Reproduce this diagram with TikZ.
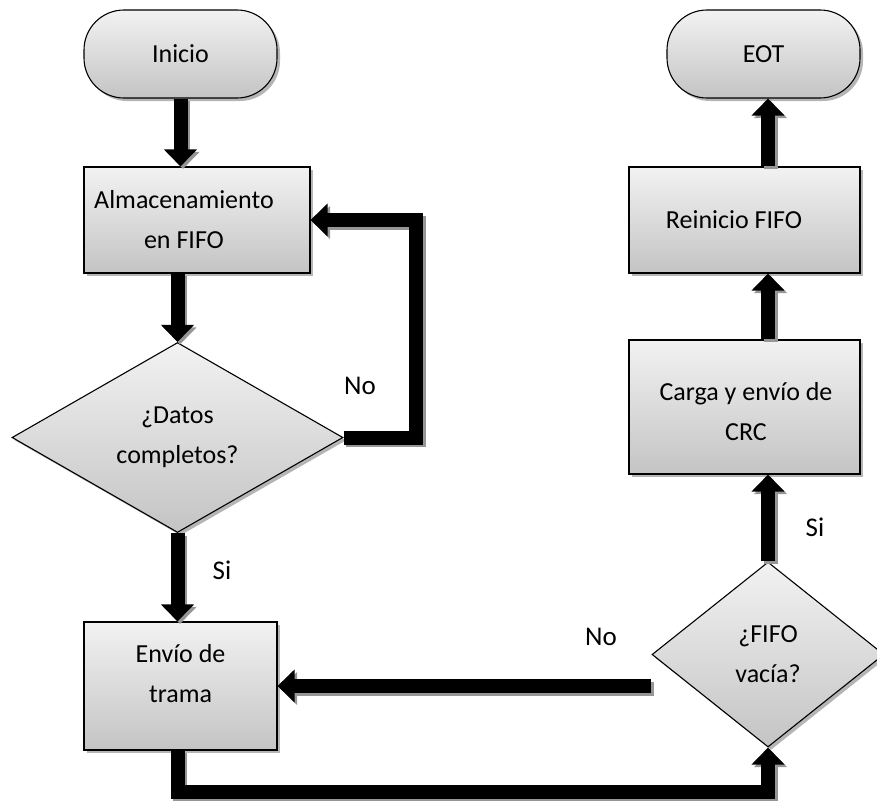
\documentclass[tikz,border=0pt]{standalone}
\usepackage{fontspec}
\setmainfont{Carlito}
\usetikzlibrary{arrows.meta,shapes.geometric,shadows,calc}
\definecolor{filltop}{RGB}{242,242,242}
\definecolor{fillbot}{RGB}{196,196,196}
\definecolor{shadowgray}{RGB}{150,150,150}
\begin{document}
\begin{tikzpicture}[x=1pt,y=-1pt,
  base/.style={draw=black, line width=1.1pt, top color=filltop, bottom color=fillbot,
    inner sep=0pt, align=center, font=\fontsize{26}{40}\selectfont,
    drop shadow={shadow xshift=3pt, shadow yshift=-3pt, fill=shadowgray, opacity=0.7}},
  terminal/.style={base, rounded corners=40pt, minimum width=193pt, minimum height=88pt},
  process/.style={base, minimum height=106pt},
  decision/.style={base, diamond},
  boxtext/.style={inner sep=0pt, align=center, font=\fontsize{26}{40}\selectfont},
  flow/.style={line width=14pt, -{Triangle[width=32pt,length=17pt]},
    preaction={draw=shadowgray, line width=14pt, -{Triangle[width=32pt,length=17pt]},
      transform canvas={shift={(2.5pt,-2.5pt)}}}},
  lbl/.style={font=\fontsize{27}{30}\selectfont, inner sep=0pt}]
  \useasboundingbox (0,0) rectangle (877,800);

  % left column
  \node[terminal] (inicio) at (180.5,54) {Inicio};
  \node[process, minimum width=226pt] (alm) at (197,220) {};
  \node[boxtext] (almtext) at (184,220) {Almacenamiento\\en FIFO};
  \node[decision, minimum width=331pt, minimum height=190pt] (datos) at (177.5,437.5) {¿Datos\\completos?};
  \node[process, minimum width=193pt, minimum height=128pt] (envio) at (180.5,686) {};
  \node[boxtext] (enviotext) at (180.5,674) {Envío de\\trama};

  % right column
  \node[terminal] (eot) at (763.5,54) {EOT};
  \node[process, minimum width=231pt] (reinicio) at (744.5,220) {};
  \node[boxtext] (reiniciotext) at (734,220) {Reinicio FIFO};
  \node[process, minimum width=231pt, minimum height=134pt] (carga) at (744.5,407) {};
  \node[boxtext] (cargatext) at (746,412) {Carga y envío de\\CRC};
  \node[decision, minimum width=232pt, minimum height=185pt] (fifo) at (768,654.5) {¿FIFO\\vacía?};

  \coordinate (loopx) at (416,0);
  \coordinate (bottom) at (0,792);

  % connectors
  \draw[flow] (inicio.south) -- (inicio.south |- alm.north);
  \draw[flow] (alm.south -| datos.north) -- (datos.north);
  \draw[flow] (datos.east) -| (loopx |- alm.east) -- (alm.east);
  \draw[flow] (datos.south) -- (datos.south |- envio.north);
  \draw[flow] (envio.south -| datos.south) -- (datos.south |- bottom) -| (fifo.south);
  \draw[flow] (fifo.west |- envio.east) -- (envio.east);
  \draw[flow] (fifo.north) -- (fifo.north |- carga.south);
  \draw[flow] (fifo.north |- carga.north) -- (fifo.north |- reinicio.south);
  \draw[flow] (fifo.north |- reinicio.north) -- (fifo.north |- eot.south);

  % branch labels
  \node[lbl] (no1) at (360,386) {No};
  \node[lbl] (si1) at (222,570) {Si};
  \node[lbl] (no2) at (601,637) {No};
  \node[lbl] (si2) at (815,527) {Si};
\end{tikzpicture}
\end{document}
